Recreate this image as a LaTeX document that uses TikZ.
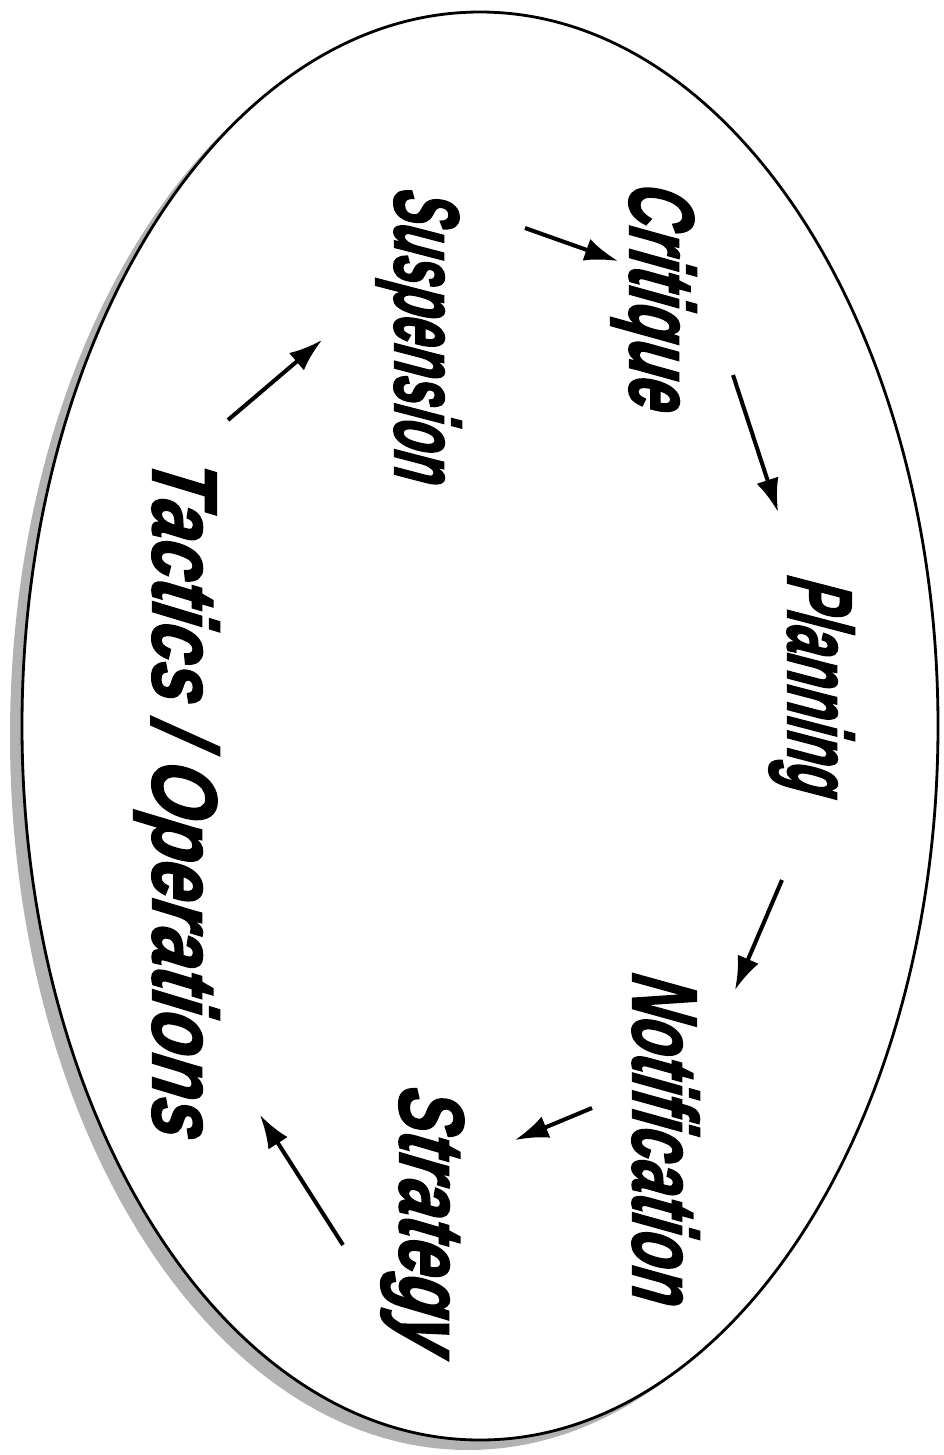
\documentclass[tikz,border=0pt]{standalone}
\usepackage{fontspec}
\newfontfamily\cyclefont[FakeBold=2.5]{Liberation Sans}
\usetikzlibrary{arrows.meta}

\tikzset{
  phase/.style={rotate=-90, xslant=0.15, anchor=base, inner sep=0pt,
    font=\cyclefont\bfseries\itshape\fontsize{52}{56}\selectfont},
  flow/.style={-{Latex[length=19pt,width=13pt]}, line width=2.3pt},
}

\begin{document}
\begin{tikzpicture}[x=0.02cm, y=-0.02cm]
  \useasboundingbox (0,0) rectangle (944,1455);

  % shadow and outer ellipse
  \fill[gray!60] (468,736) ellipse [x radius=458, y radius=714];
  \draw[line width=1.6pt, fill=white] (480,726) ellipse [x radius=458, y radius=714];

  % phases of the cycle (positions on the baseline)
  \node[phase, xscale=0.655] (crit)  at (630,295)  {Critique};
  \node[phase, xscale=0.565] (susp)  at (395,334)  {Suspension};
  \node[phase, xscale=0.565] (plan)  at (788,684)  {Planning};
  \node[phase, xscale=0.655] (notif) at (633,1137) {Notification};
  \node[phase, xscale=0.725] (strat) at (400,1218) {Strategy};
  \node[phase, xscale=0.78]  (tact)  at (153,796)  {Tactics / Operations};

  % arrow ends
  \coordinate (a1) at (525,228);  \coordinate (b1) at (618,261);
  \coordinate (a2) at (733,375);  \coordinate (b2) at (778,512);
  \coordinate (a3) at (782,880);  \coordinate (b3) at (735,990);
  \coordinate (a4) at (592,1108); \coordinate (b4) at (515,1140);
  \coordinate (a5) at (343,1245); \coordinate (b5) at (260,1115);
  \coordinate (a6) at (228,420);  \coordinate (b6) at (322,340);

  \draw[flow] (a1) -- (b1);
  \draw[flow] (a2) -- (b2);
  \draw[flow] (a3) -- (b3);
  \draw[flow] (a4) -- (b4);
  \draw[flow] (a5) -- (b5);
  \draw[flow] (a6) -- (b6);
\end{tikzpicture}
\end{document}
